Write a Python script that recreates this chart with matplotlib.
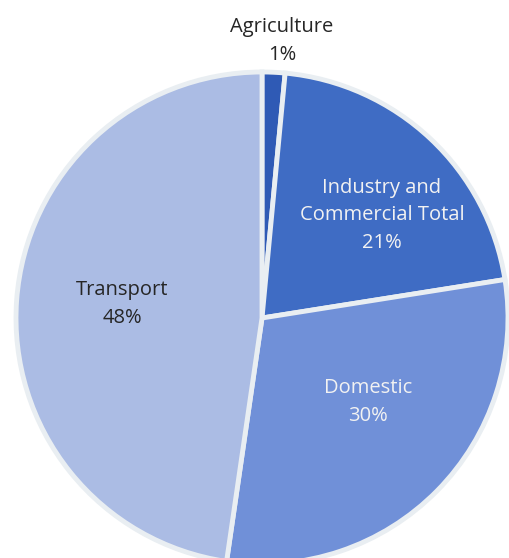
import matplotlib.pyplot as plt

# Share of emissions by sector (percent)
sectors = ["Agriculture", "Industry and\nCommercial Total", "Domestic", "Transport"]
shares = [1.5, 21.0, 29.8, 47.7]
shown_pct = [1, 21, 30, 48]
colors = ["#2F5AB5", "#3F6CC4", "#7090D8", "#ABBCE4"]
text_colors = ["#262626", "#F2F2F2", "#F2F2F2", "#262626"]
# label centres in pixel coords (x, y from top)
label_pos = [(282, 41), (382, 215), (368, 402), (122, 304)]

W, H = 509, 558
fig = plt.figure(figsize=(W / 100, H / 100), dpi=100)
ax = fig.add_axes([0, 0, 1, 1])

cx, cy, r = 262, H - 318, 246
ax.pie(shares, colors=colors, startangle=90, counterclock=False,
       center=(cx, cy), radius=r, frame=True,
       wedgeprops=dict(edgecolor="#E9EEF2", linewidth=3.5))
ax.set_xlim(0, W)
ax.set_ylim(0, H)
ax.set_aspect("equal")
ax.axis("off")

# This keeps the labels as plain text above the wedges
for name, pct, pos, tc in zip(sectors, shown_pct, label_pos, text_colors):
    ax.text(pos[0], H - pos[1], f"{name}\n{pct}%", ha="center", va="center",
            fontsize=14.5, family=["Open Sans", "DejaVu Sans"], color=tc,
            linespacing=1.5)

fig.savefig("out.png", dpi=100, facecolor="white")
